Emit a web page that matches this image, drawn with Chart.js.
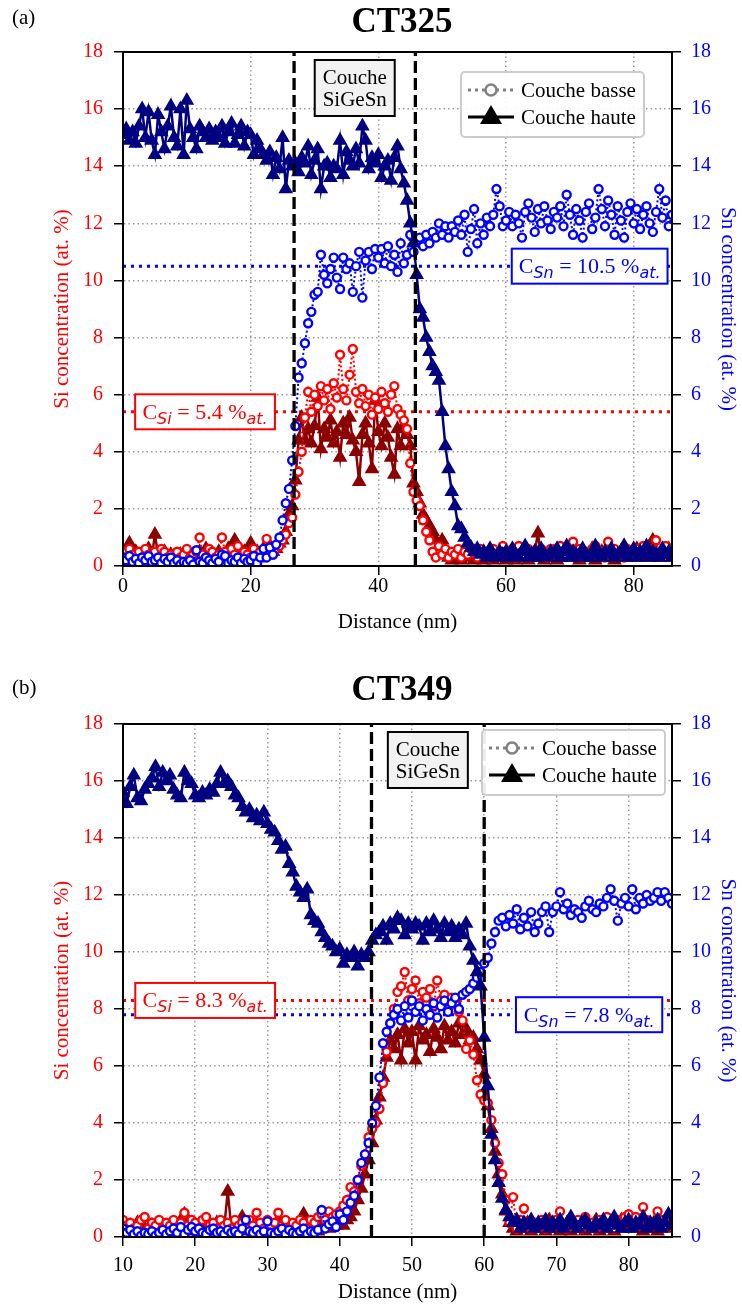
<!DOCTYPE html>
<html>
<head>
<meta charset="utf-8">
<script src="https://cdn.jsdelivr.net/npm/chart.js@4.4.1/dist/chart.umd.min.js"></script>
<style>
  body { margin: 0; background: #fff; }
  .panel { position: relative; width: 742px; height: 654px; }
</style>
</head>
<body>
<div class="panel"><canvas id="ct325" width="742" height="654"></canvas></div>
<div class="panel"><canvas id="ct349" width="742" height="654"></canvas></div>
<script>
// ---- CT325 (a) ----
const distA = [
  0,0.5,1,1.5,2,2.5,3,3.5,4,4.5,5,5.5,6,6.5,7,7.5,8,8.5,9,9.5,
  10,10.5,11,11.5,12,12.5,13,13.5,14,14.5,15,15.5,16,16.5,17,17.5,18,18.5,19,19.5,
  20,20.5,21,21.5,22,22.5,23,23.5,24,24.5,25,25.5,26,26.5,27,27.5,28,28.5,29,29.5,
  30,30.5,31,31.5,32,32.5,33,33.5,34,34.5,35,35.5,36,36.5,37,37.5,38,38.5,39,39.5,
  40,40.5,41,41.5,42,42.5,43,43.5,44,44.5,45,45.5,46,46.5,47,47.5,48,48.5,49,49.5,
  50,50.5,51,51.5,52,52.5,53,53.5,54,54.5,55,55.5,56,56.5,57,57.5,58,58.5,59,59.5,
  60,60.5,61,61.5,62,62.5,63,63.5,64,64.5,65,65.5,66,66.5,67,67.5,68,68.5,69,69.5,
  70,70.5,71,71.5,72,72.5,73,73.5,74,74.5,75,75.5,76,76.5,77,77.5,78,78.5,79,79.5,
  80,80.5,81,81.5,82,82.5,83,83.5,84,84.5,85,85.5,86
];
const snUpA = [
  15.1,15.3,14.9,15.2,14.8,15.4,16.0,15.0,15.9,14.9,14.4,15.8,15.2,14.6,15.4,16.1,15.0,14.7,16.0,14.4,
  16.3,15.3,15.0,14.6,15.4,15.2,15.0,15.3,14.9,15.2,15.0,15.4,14.8,15.2,15.5,14.8,15.1,15.4,14.7,15.2,
  15.1,14.4,14.9,14.6,14.4,14.2,14.5,13.7,14.3,13.9,15.0,13.2,14.2,14.0,14.1,13.8,14.3,14.1,14.7,13.7,
  14.2,14.6,13.2,14.0,14.1,13.6,14.0,13.9,14.9,13.7,14.5,14.2,14.0,14.6,14.1,15.4,14.9,13.9,14.3,14.1,
  14.4,13.6,14.0,14.2,13.5,14.3,14.7,13.9,13.4,12.8,12.0,11.3,10.2,9.0,8.7,8.0,7.5,7.0,6.8,6.5,
  5.4,4.2,3.4,2.6,2.1,1.4,1.3,1.0,0.8,0.65,0.5,0.6,0.4,0.5,0.3,0.6,0.4,0.3,0.5,0.4,
  0.5,0.3,0.6,0.4,0.3,0.5,0.7,0.3,0.4,0.5,0.3,0.6,0.4,0.3,0.5,0.4,0.6,0.3,0.5,0.7,
  0.3,0.5,0.4,0.3,0.6,0.4,0.3,0.5,0.7,0.4,0.3,0.5,0.4,0.6,0.3,0.4,0.5,0.7,0.3,0.4,
  0.6,0.3,0.5,0.4,0.7,0.3,0.5,0.4,0.3,0.6,0.4,0.5,0.3
];
const snLowA = [
  0.3,0.2,0.35,0.15,0.25,0.1,0.3,0.2,0.35,0.15,0.2,0.3,0.1,0.25,0.15,0.3,0.1,0.2,0.05,0.15,
  0.1,0.2,0.05,0.55,0.15,0.1,0.3,0.2,0.1,0.25,0.15,0.4,0.35,0.1,0.2,0.15,0.3,0.1,0.25,0.15,
  0.2,0.35,0.1,0.3,0.6,0.3,0.65,0.4,0.75,1.0,1.6,2.2,2.7,3.7,4.9,6.6,7.1,7.8,8.5,8.9,
  9.5,9.6,10.9,10.2,9.9,10.4,10.8,10.1,9.7,10.8,10.4,10.6,9.6,10.5,11.0,9.4,10.7,11.0,10.4,11.1,
  10.8,11.1,10.6,11.2,10.5,10.9,10.3,11.3,10.6,10.9,11.6,11.0,11.4,11.5,11.2,11.6,11.3,11.7,11.5,12.0,
  11.6,11.9,11.5,11.9,11.7,12.1,11.6,12.3,11.0,11.8,12.5,11.3,12.0,11.6,12.2,11.9,12.3,13.2,12.6,11.9,
  12.1,12.4,11.9,12.3,12.0,11.5,12.4,12.7,12.2,11.7,12.5,12.0,12.6,12.1,11.8,12.4,12.2,12.6,11.9,13.0,
  12.3,11.6,12.5,12.1,11.5,12.4,12.7,11.8,12.2,13.2,12.5,11.9,12.8,12.3,11.6,12.6,12.1,11.5,12.4,12.7,
  12.0,12.5,11.8,12.3,12.6,12.0,11.7,12.4,13.2,12.2,12.8,11.9,12.3
];
const siLowA = [
  0.5,0.3,0.6,0.4,0.2,0.5,0.3,0.6,0.4,0.3,0.5,0.2,0.6,0.5,0.3,0.4,0.2,0.5,0.3,0.4,
  0.6,0.3,0.4,0.5,1.0,0.4,0.3,0.6,0.5,0.3,0.4,1.0,0.5,0.3,0.6,0.4,0.7,0.3,0.5,0.4,
  0.3,0.6,0.4,0.5,0.3,0.95,0.5,0.4,0.6,0.7,0.9,1.1,1.5,1.7,2.5,3.3,4.0,5.2,6.1,5.4,
  6.0,5.6,6.3,5.8,6.2,5.5,6.4,5.9,7.4,6.2,5.8,6.7,7.6,6.1,5.7,6.2,5.6,6.0,5.3,5.9,
  5.5,6.1,5.7,5.4,6.0,6.3,5.5,5.3,5.1,4.8,3.6,2.6,2.3,2.1,1.6,1.2,0.9,0.5,0.3,0.7,
  0.4,0.6,0.3,0.5,0.4,0.6,0.3,0.5,0.4,0.6,0.5,0.3,0.6,0.4,0.5,0.3,0.6,0.4,0.5,0.7,
  0.5,0.4,0.6,0.3,0.7,0.5,0.4,0.6,0.3,0.5,0.4,0.6,0.5,0.3,0.6,0.4,0.5,0.7,0.4,0.6,
  0.5,0.85,0.4,0.6,0.3,0.5,0.4,0.6,0.7,0.4,0.5,0.3,0.85,0.5,0.6,0.4,0.5,0.3,0.6,0.5,
  0.4,0.6,0.5,0.7,0.4,0.5,0.6,0.9,0.4,0.5,0.7,0.4,0.6
];
const siUpA = [
  0.3,0.4,0.8,0.2,0.5,0.3,0.4,0.2,0.6,0.3,1.1,0.4,0.2,0.5,0.3,0.4,0.2,0.3,0.4,0.2,
  0.3,0.2,0.4,0.3,0.5,0.2,0.6,0.3,0.4,0.2,0.5,0.3,0.4,0.6,0.3,0.9,0.4,0.3,0.5,0.4,
  0.8,0.4,0.5,0.3,0.6,0.4,0.7,0.5,0.6,0.8,0.9,1.2,1.8,2.1,3.0,4.4,5.2,4.4,4.8,4.3,
  4.9,5.9,4.1,4.8,4.5,5.1,4.3,4.7,3.8,5.0,4.6,5.2,4.4,4.0,2.95,4.6,5.0,4.3,3.4,5.8,
  4.7,4.2,5.0,4.5,3.8,3.2,4.8,4.2,4.9,4.6,4.2,2.9,2.6,2.2,1.8,1.6,1.4,1.2,0.9,0.7,
  0.9,0.5,0.3,0.2,0.4,0.3,0.2,0.4,0.3,0.5,0.2,0.3,0.4,0.2,0.3,0.5,0.2,0.4,0.3,0.5,
  0.2,0.4,0.3,0.2,0.5,0.3,0.4,0.2,0.3,0.5,1.15,0.3,0.2,0.4,0.3,0.5,0.2,0.3,0.4,0.6,
  0.3,0.7,0.4,0.2,0.5,0.3,0.4,0.6,0.2,0.3,0.5,0.4,0.3,0.6,0.2,0.4,0.3,0.7,0.5,0.4,
  0.3,0.6,0.4,0.5,0.3,0.7,0.9,0.4,0.3,0.5,0.4,0.6,0.3
];
const edgesA = [26.8, 45.8];   // SiGeSn layer limits (nm)
const cSiA = 5.4, cSnA = 10.5;

// ---- CT349 (b) ----
const distB = [
  10,10.5,11,11.5,12,12.5,13,13.5,14,14.5,15,15.5,16,16.5,17,17.5,18,18.5,19,19.5,
  20,20.5,21,21.5,22,22.5,23,23.5,24,24.5,25,25.5,26,26.5,27,27.5,28,28.5,29,29.5,
  30,30.5,31,31.5,32,32.5,33,33.5,34,34.5,35,35.5,36,36.5,37,37.5,38,38.5,39,39.5,
  40,40.5,41,41.5,42,42.5,43,43.5,44,44.5,45,45.5,46,46.5,47,47.5,48,48.5,49,49.5,
  50,50.5,51,51.5,52,52.5,53,53.5,54,54.5,55,55.5,56,56.5,57,57.5,58,58.5,59,59.5,
  60,60.5,61,61.5,62,62.5,63,63.5,64,64.5,65,65.5,66,66.5,67,67.5,68,68.5,69,69.5,
  70,70.5,71,71.5,72,72.5,73,73.5,74,74.5,75,75.5,76,76.5,77,77.5,78,78.5,79,79.5,
  80,80.5,81,81.5,82,82.5,83,83.5,84,84.5,85,85.5,86
];
const snUpB = [
  15.6,15.2,15.8,16.2,15.4,15.3,15.7,15.9,16.1,16.5,15.8,16.3,16.0,16.2,15.7,15.5,15.4,16.3,16.0,15.9,
  15.5,15.4,15.6,15.5,15.7,15.6,15.9,16.3,15.9,16.0,15.8,15.5,15.4,15.1,14.9,15.0,14.7,14.8,14.6,14.9,
  14.5,14.3,14.2,13.9,13.6,13.7,13.1,12.8,12.3,12.1,11.9,12.2,11.3,11.1,11.0,10.7,10.5,10.3,10.2,10.0,
  10.1,9.6,9.9,9.8,10.0,9.5,9.9,9.8,10.0,10.4,10.6,10.7,10.9,10.4,11.0,10.8,11.2,11.1,10.6,11.0,
  10.8,11.0,10.9,10.4,11.0,10.7,11.1,10.8,10.5,11.0,10.7,10.9,10.5,10.8,10.6,11.0,10.2,9.7,9.3,8.8,
  7.0,5.3,3.6,2.7,1.9,1.35,0.95,0.7,0.5,0.6,0.3,0.5,0.4,0.6,0.3,0.5,0.4,0.6,0.3,0.5,
  0.4,0.6,0.3,0.5,0.7,0.4,0.3,0.5,0.6,0.4,0.3,0.5,0.4,0.6,0.3,0.5,0.7,0.4,0.3,0.5,
  0.6,0.3,0.5,0.4,0.7,0.3,0.5,0.4,0.6,0.3,0.5,0.8,0.4
];
const snLowB = [
  0.3,0.15,0.25,0.1,0.2,0.05,0.15,0.1,0.2,0.05,0.15,0.25,0.1,0.2,0.3,0.15,0.35,0.1,0.25,0.35,
  0.2,0.3,0.15,0.1,0.25,0.3,0.15,0.2,0.1,0.25,0.15,0.2,0.1,0.3,0.6,0.2,0.15,0.25,0.1,0.2,
  0.55,0.15,0.1,0.2,0.3,0.1,0.25,0.15,0.1,0.2,0.3,0.1,0.2,0.15,0.25,0.95,0.3,0.45,0.55,0.35,
  0.8,0.6,0.9,1.2,1.45,2.0,2.6,2.9,3.3,4.0,4.6,5.6,6.8,7.2,7.5,7.8,8.0,7.6,8.1,7.7,
  8.3,7.9,8.1,7.6,8.0,7.8,8.2,7.7,8.1,8.3,7.9,8.2,8.4,8.0,8.5,8.6,8.7,8.9,9.1,9.3,
  9.6,9.8,10.3,10.7,11.1,11.2,10.9,11.3,11.0,11.5,10.8,11.2,10.9,11.4,10.7,11.0,11.4,11.6,10.7,11.4,
  11.6,12.1,11.5,11.7,11.3,11.5,11.4,11.2,11.6,11.8,11.5,11.4,11.7,11.6,11.9,12.2,11.8,11.1,11.7,11.9,
  11.6,12.2,11.5,11.9,11.7,12.0,11.8,11.9,12.1,11.8,12.1,11.9,11.7
];
const siLowB = [
  0.6,0.4,0.5,0.3,0.4,0.6,0.7,0.3,0.5,0.4,0.6,0.3,0.5,0.4,0.6,0.3,0.5,0.85,0.4,0.6,
  0.5,0.3,0.6,0.7,0.4,0.5,0.3,0.6,0.4,0.5,0.3,0.6,0.4,0.5,0.3,0.6,0.4,0.85,0.5,0.3,
  0.6,0.4,0.5,0.85,0.4,0.6,0.3,0.5,0.4,0.6,0.5,0.3,0.6,0.5,0.7,0.8,0.6,0.9,0.7,0.8,
  0.9,1.1,1.3,1.75,1.6,2.0,2.5,2.9,3.5,3.8,4.0,4.5,5.4,6.5,7.5,8.0,8.6,8.8,9.3,8.3,
  8.7,9.0,8.2,8.6,8.4,8.7,8.1,9.0,8.3,8.5,8.0,8.4,8.2,7.9,7.6,6.6,6.9,6.4,5.5,5.0,
  4.8,4.7,4.1,3.3,2.6,2.2,1.3,0.5,1.4,0.3,0.6,1.0,0.4,0.3,0.5,0.4,0.6,0.3,0.5,0.4,
  0.6,0.9,0.4,0.3,0.5,0.4,0.6,0.3,0.7,0.4,0.5,0.3,0.6,0.4,0.7,0.5,0.3,0.6,0.4,0.7,
  0.8,0.5,0.7,0.4,1.05,0.6,0.4,0.5,0.9,0.6,0.4,0.7,0.5
];
const siUpB = [
  0.3,0.2,0.4,0.1,0.5,0.2,0.3,0.1,0.4,0.2,0.3,0.1,0.2,0.4,0.2,0.3,0.2,0.8,0.3,0.2,
  0.4,0.2,0.3,0.1,0.4,0.2,0.5,0.2,0.3,1.6,0.3,0.2,0.4,0.7,0.2,0.3,0.1,0.4,0.2,0.3,
  0.2,0.4,0.3,0.6,0.2,0.3,0.4,0.2,0.3,0.5,0.8,0.4,0.3,0.5,0.2,0.6,0.4,0.3,0.5,0.4,
  0.5,0.4,0.6,0.7,0.9,1.3,1.7,2.2,2.7,3.3,4.1,4.9,5.6,6.3,6.9,6.6,7.1,6.2,7.3,6.8,
  7.2,6.2,7.4,6.9,7.1,6.5,7.3,7.0,6.6,7.4,6.9,7.2,6.8,7.5,7.1,7.3,6.9,7.0,6.6,6.2,
  5.7,4.6,3.8,3.0,2.2,1.5,0.9,0.5,0.3,0.2,0.4,0.3,0.5,0.2,0.4,0.3,0.5,0.2,0.6,0.3,
  0.4,0.2,0.3,0.5,0.2,0.4,0.3,0.5,0.2,0.4,0.3,0.6,0.2,0.4,0.3,0.5,0.2,0.4,0.6,0.3,
  0.7,0.4,0.3,0.5,0.2,0.4,0.3,0.5,0.2,0.4,0.3,0.5,0.4
];
const edgesB = [44.4, 60.0];
const cSiB = 8.3, cSnB = 7.8;

const yTicksMax = 18, yStep = 2;

const redC = '#ff0000', darkRed = '#8b0000', blueC = '#0000ff', navy = '#000080';
const serif = '"Liberation Serif", "Times New Roman", serif';
Chart.defaults.font.family = serif;

function pts(dist, vals) {
  return dist.map((x, i) => ({ x: x, y: vals[i] }));
}

function lowSet(dist, vals, color, axis, order) {
  return {
    data: pts(dist, vals), yAxisID: axis, order: order, clip: 0,
    borderColor: color, borderWidth: 2, borderDash: [2, 2.5],
    pointStyle: 'circle', pointRadius: 4, pointBorderWidth: 2.4,
    pointBorderColor: color, pointBackgroundColor: '#fff'
  };
}

function upSet(dist, vals, color, axis, order) {
  return {
    data: pts(dist, vals), yAxisID: axis, order: order, clip: 0,
    borderColor: color, borderWidth: 2.5,
    pointStyle: 'triangle', pointRadius: 7, pointBorderWidth: 1.5,
    pointBorderColor: color, pointBackgroundColor: color
  };
}

function vLine(x) {
  return {
    data: [{ x: x, y: 0 }, { x: x, y: yTicksMax }], yAxisID: 'y', order: -1,
    borderColor: '#000', borderWidth: 3.3, borderDash: [12, 5], pointRadius: 0
  };
}

function hLine(y, x0, x1, color) {
  return {
    data: [{ x: x0, y: y }, { x: x1, y: y }], yAxisID: 'y', order: 10,
    borderColor: color, borderWidth: 3, borderDash: [3, 5], pointRadius: 0
  };
}

function richText(ctx, parts, cx, baseY, color) {
  let total = 0;
  parts.forEach(p => { ctx.font = p.font; p.w = ctx.measureText(p.t).width; total += p.w; });
  let x = cx - total / 2;
  ctx.fillStyle = color;
  ctx.textAlign = 'left';
  ctx.textBaseline = 'alphabetic';
  parts.forEach(p => { ctx.font = p.font; ctx.fillText(p.t, x, baseY + (p.dy || 0)); x += p.w; });
}

function concBox(ctx, sx, sy, range, val, el, color) {
  const x0 = sx.getPixelForValue(range[0]), x1 = sx.getPixelForValue(range[1]);
  const cy = sy.getPixelForValue(val);
  ctx.fillStyle = '#fff';
  ctx.fillRect(x0, cy - 17.5, x1 - x0, 35);
  ctx.strokeStyle = color;
  ctx.lineWidth = 2;
  ctx.strokeRect(x0, cy - 17.5, x1 - x0, 35);
  richText(ctx, [
    { t: 'C', font: '22px ' + serif },
    { t: el, font: 'italic 16px "DejaVu Sans"', dy: 5 },
    { t: ' = ' + val.toFixed(1) + ' %', font: '22px ' + serif },
    { t: 'at.', font: 'italic 16px "DejaVu Sans"', dy: 5 }
  ], (x0 + x1) / 2, cy + 7, color);
}

function drawLegend(ctx, x, y) {
  const w = 183, h = 65, r = 4;
  ctx.beginPath();
  ctx.roundRect(x, y, w, h, r);
  ctx.fillStyle = 'rgba(255,255,255,0.92)';
  ctx.fill();
  ctx.strokeStyle = '#cccccc';
  ctx.lineWidth = 2;
  ctx.stroke();

  const r1 = y + 18, r2 = y + 45, mx = x + 30;
  // Couche basse: dotted grey line + open circle
  ctx.strokeStyle = '#808080';
  ctx.lineWidth = 3;
  ctx.setLineDash([3, 4]);
  ctx.beginPath(); ctx.moveTo(x + 7, r1); ctx.lineTo(x + 53, r1); ctx.stroke();
  ctx.setLineDash([]);
  ctx.beginPath(); ctx.arc(mx, r1, 5.5, 0, Math.PI * 2);
  ctx.fillStyle = '#fff'; ctx.fill();
  ctx.lineWidth = 2.5; ctx.stroke();
  // Couche haute: solid black line + triangle
  ctx.strokeStyle = '#000';
  ctx.lineWidth = 3;
  ctx.beginPath(); ctx.moveTo(x + 7, r2); ctx.lineTo(x + 53, r2); ctx.stroke();
  ctx.fillStyle = '#000';
  ctx.beginPath();
  ctx.moveTo(mx, r2 - 12); ctx.lineTo(mx + 11, r2 + 7); ctx.lineTo(mx - 11, r2 + 7);
  ctx.closePath(); ctx.fill();

  ctx.font = '21px ' + serif;
  ctx.textAlign = 'left';
  ctx.textBaseline = 'middle';
  ctx.fillText('Couche basse', x + 60, r1 + 1);
  ctx.fillText('Couche haute', x + 60, r2 + 1);
}

function makeDecor(p) {
  return {
    id: 'decor',
    afterDatasetsDraw(chart) {
      const ctx = chart.ctx, a = chart.chartArea;
      const sx = chart.scales.x, sy = chart.scales.y;
      ctx.save();
      ctx.setLineDash([]);
      ctx.strokeStyle = '#000';
      ctx.lineWidth = 2;
      ctx.strokeRect(a.left, a.top, a.right - a.left, a.bottom - a.top);

      // layer label between the dashed lines
      const mid = (sx.getPixelForValue(p.edges[0]) + sx.getPixelForValue(p.edges[1])) / 2;
      ctx.fillStyle = '#f2f2f2';
      ctx.fillRect(mid - 40, a.top + 8, 80, 56);
      ctx.strokeRect(mid - 40, a.top + 8, 80, 56);
      ctx.fillStyle = '#000';
      ctx.font = '21px ' + serif;
      ctx.textAlign = 'center';
      ctx.textBaseline = 'middle';
      ctx.fillText('Couche', mid, a.top + 26);
      ctx.fillText('SiGeSn', mid, a.top + 48);

      concBox(ctx, sx, sy, p.siBox, p.cSi, 'Si', redC);
      concBox(ctx, sx, sy, p.snBox, p.cSn, 'Sn', blueC);
      drawLegend(ctx, a.right - p.legendRight - 183, a.top + p.legendTop);
      ctx.restore();
    },
    afterDraw(chart) {
      const ctx = chart.ctx;
      ctx.save();
      ctx.fillStyle = '#000';
      ctx.textBaseline = 'alphabetic';
      ctx.textAlign = 'left';
      ctx.font = '21px ' + serif;
      ctx.fillText(p.tag, 12, p.tagY);
      ctx.textAlign = 'center';
      ctx.font = 'bold 35px ' + serif;
      ctx.fillText(p.name, 402, p.nameY);
      ctx.restore();
    }
  };
}

function makePanel(p) {
  const tickFont = { size: 20, family: serif };
  const titleFont = { size: 21, family: serif, weight: 'normal' };
  const grid = { color: '#9a9a9a', lineWidth: 1.5, tickColor: '#000', tickLength: 9, tickWidth: 1.5 };
  const border = { color: '#000', width: 2, dash: [1.5, 3] };
  const [xa, xb] = [p.xMin, p.xMax];
  return new Chart(document.getElementById(p.id), {
    type: 'line',
    data: {
      datasets: [
        upSet(p.dist, p.snUp, navy, 'y1', 0),
        lowSet(p.dist, p.snLow, blueC, 'y1', 1),
        lowSet(p.dist, p.siLow, redC, 'y', 2),
        upSet(p.dist, p.siUp, darkRed, 'y', 3),
        vLine(p.edges[0]),
        vLine(p.edges[1]),
        hLine(p.cSi, xa, xb, redC),
        hLine(p.cSn, xa, xb, blueC)
      ]
    },
    options: {
      responsive: false,
      animation: false,
      events: [],
      layout: { padding: { top: p.top, left: 0, right: 0, bottom: 0 } },
      plugins: { legend: { display: false }, tooltip: { enabled: false } },
      scales: {
        x: {
          type: 'linear', min: xa, max: xb,
          afterFit: s => { s.height = p.xAxisH; },
          ticks: { stepSize: p.xStep, includeBounds: false, autoSkip: false, maxRotation: 0,
                   color: '#000', padding: p.xTickPad, font: tickFont },
          grid: grid, border: border,
          title: { display: true, text: 'Distance (nm)', color: '#000', font: titleFont,
                   padding: { top: 0, bottom: p.xTitlePad } }
        },
        y: {
          position: 'left', min: 0, max: yTicksMax,
          afterFit: s => { s.width = 123; },
          ticks: { stepSize: yStep, color: redC, padding: 11, font: tickFont },
          grid: grid, border: border,
          title: { display: true, text: 'Si concentration (at. %)', color: redC, font: titleFont,
                   padding: { top: 50, bottom: 0 } }
        },
        y1: {
          position: 'right', min: 0, max: yTicksMax,
          afterFit: s => { s.width = 70; },
          ticks: { stepSize: yStep, color: blueC, padding: 10, font: tickFont },
          grid: Object.assign({}, grid, { drawOnChartArea: false }), border: border,
          title: { display: true, text: 'Sn concentration (at. %)', color: blueC, font: titleFont,
                   padding: { top: 2, bottom: 0 } }
        }
      }
    },
    plugins: [makeDecor(p)]
  });
}

makePanel({
  id: 'ct325', tag: '(a)', name: 'CT325', tagY: 24, nameY: 32,
  dist: distA, snUp: snUpA, snLow: snLowA, siLow: siLowA, siUp: siUpA,
  edges: edgesA, cSi: cSiA, cSn: cSnA,
  xMin: 0, xMax: 86, xStep: 20,
  top: 52, xAxisH: 88, xTickPad: 0, xTitlePad: 19,
  siBox: [1.9, 23.8], snBox: [60.9, 85.3],
  legendRight: 28, legendTop: 20
});

makePanel({
  id: 'ct349', tag: '(b)', name: 'CT349', tagY: 40, nameY: 46,
  dist: distB, snUp: snUpB, snLow: snLowB, siLow: siLowB, siUp: siUpB,
  edges: edgesB, cSi: cSiB, cSn: cSnB,
  xMin: 10, xMax: 86, xStep: 10,
  top: 70, xAxisH: 71, xTickPad: 8, xTitlePad: 3,
  siBox: [11.7, 31.05], snBox: [64.4, 84.65],
  legendRight: 7, legendTop: 6
});
</script>
</body>
</html>
